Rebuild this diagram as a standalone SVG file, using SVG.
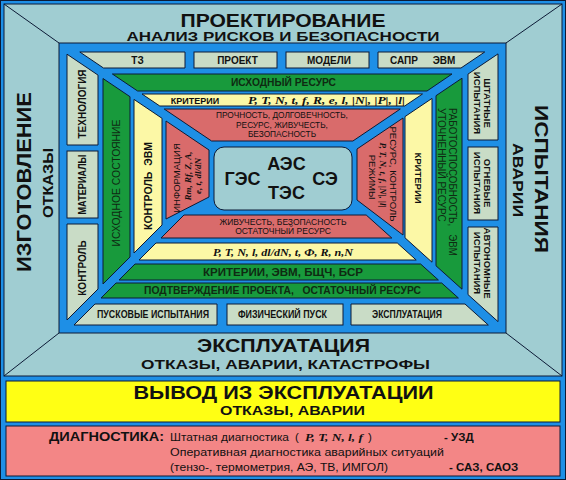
<svg xmlns="http://www.w3.org/2000/svg" width="566" height="480" viewBox="0 0 566 480">
<style>
.s{stroke:#0c1a36;stroke-width:1}
.bl{fill:#1e8fe6}
.pn{fill:#a0cdd2}
.bx{fill:#c9dcc6}
.gr{fill:#189a3c}
.yl{fill:#fcf8a6}
.rd{fill:#d96b6b}
.ln{stroke:#0c1a36;stroke-width:1;fill:none}
text{font-family:"Liberation Sans",Arial,sans-serif;fill:#111}
.b{font-weight:bold}
.m{text-anchor:middle}
.f{font-family:"Liberation Serif","Times New Roman",serif;font-style:italic;font-weight:bold}
.dg{fill:#0f2a12}
</style>
<rect x="0" y="0" width="566" height="480" class="bl"/>
<rect x="0.5" y="0.5" width="565" height="479" class="ln"/>

<g id="outer-frame">
<rect x="4" y="4" width="558" height="372" class="pn s"/>
<line x1="4" y1="4" x2="59" y2="43" class="ln"/>
<line x1="562" y1="4" x2="506" y2="43" class="ln"/>
<line x1="4" y1="376" x2="59" y2="333" class="ln"/>
<line x1="562" y1="376" x2="506" y2="333" class="ln"/>
</g>

<g id="proektirovanie">
<text x="283" y="27" class="b m" font-size="18" textLength="205" lengthAdjust="spacingAndGlyphs">ПРОЕКТИРОВАНИЕ</text>
<text x="283" y="40.5" class="b m" font-size="12.5" textLength="313" lengthAdjust="spacingAndGlyphs">АНАЛИЗ РИСКОВ И БЕЗОПАСНОСТИ</text>
</g>
<g id="izgotovlenie">
<text transform="translate(30.5,182) rotate(-90)" class="b m" font-size="21" textLength="180" lengthAdjust="spacingAndGlyphs">ИЗГОТОВЛЕНИЕ</text>
<text transform="translate(52.5,183) rotate(-90)" class="b m" font-size="15" textLength="70" lengthAdjust="spacingAndGlyphs">ОТКАЗЫ</text>
</g>
<g id="ispytaniya">
<text transform="translate(534.7,179) rotate(90)" class="b m" font-size="19" textLength="148" lengthAdjust="spacingAndGlyphs">ИСПЫТАНИЯ</text>
<text transform="translate(513,180) rotate(90)" class="b m" font-size="14" textLength="74" lengthAdjust="spacingAndGlyphs">АВАРИИ</text>
</g>
<g id="ekspluataciya">
<text x="283.5" y="352" class="b m" font-size="17.5" textLength="173" lengthAdjust="spacingAndGlyphs">ЭКСПЛУАТАЦИЯ</text>
<text x="285.5" y="369" class="b m" font-size="12.5" textLength="289" lengthAdjust="spacingAndGlyphs">ОТКАЗЫ, АВАРИИ, КАТАСТРОФЫ</text>
</g>

<rect id="inner-frame" x="59" y="43" width="447" height="290" class="bl s"/>

<g id="box-tz"><polygon points="79.8,52 185,52 185,68 103.5,68" class="bx s"/><text x="137.5" y="64" class="b m" font-size="10">ТЗ</text></g>
<g id="box-proekt"><rect x="194" y="52" width="83" height="16" class="bx s"/><text x="237.5" y="64" class="b m" font-size="10">ПРОЕКТ</text></g>
<g id="box-modeli"><rect x="286" y="52" width="83" height="16" class="bx s"/><text x="329" y="64" class="b m" font-size="10">МОДЕЛИ</text></g>
<g id="box-sapr"><polygon points="378,52 484.7,52 461,68 378,68" class="bx s"/><text x="404" y="64" class="b m" font-size="10">САПР</text><text x="444" y="64" class="b m" font-size="10">ЭВМ</text></g>

<g id="box-tehnologiya"><polygon points="67,54.2 98,75.1 98,145 67,145" class="bx s"/><text transform="translate(86.1,104) rotate(-90)" class="b m" font-size="10">ТЕХНОЛОГИЯ</text></g>
<g id="box-materialy"><rect x="67" y="151" width="31" height="67" class="bx s"/><text transform="translate(86.1,184.5) rotate(-90)" class="b m" font-size="10" textLength="60" lengthAdjust="spacingAndGlyphs">МАТЕРИАЛЫ</text></g>
<g id="box-kontrol"><polygon points="67,224 98,224 98,289 67,320" class="bx s"/><text transform="translate(86.1,268) rotate(-90)" class="b m" font-size="10">КОНТРОЛЬ</text></g>

<g id="box-shtatnye"><polygon points="468,74.1 498,53.9 498,140 468,140" class="bx s"/><text transform="translate(483.6,103) rotate(90)" class="b m" font-size="9.5">ШТАТНЫЕ</text><text transform="translate(473.6,103) rotate(90)" class="b m" font-size="9.5">ИСПЫТАНИЯ</text></g>
<g id="box-ognevye"><rect x="468" y="147" width="30" height="73" class="bx s"/><text transform="translate(483.6,183) rotate(90)" class="b m" font-size="9.5">ОГНЕВЫЕ</text><text transform="translate(473.6,183) rotate(90)" class="b m" font-size="9.5">ИСПЫТАНИЯ</text></g>
<g id="box-avtonomnye"><polygon points="468,227 498,227 498,321.6 468,294.6" class="bx s"/><text transform="translate(483.6,263) rotate(90)" class="b m" font-size="9.5">АВТОНОМНЫЕ</text><text transform="translate(473.6,263) rotate(90)" class="b m" font-size="9.5">ИСПЫТАНИЯ</text></g>

<g id="box-puskovye"><polygon points="95,304 217,304 217,325 74,325" class="bx s"/><text x="153" y="318" class="b m" font-size="10" textLength="112" lengthAdjust="spacingAndGlyphs">ПУСКОВЫЕ ИСПЫТАНИЯ</text></g>
<g id="box-fizpusk"><rect x="227" y="304" width="116" height="21" class="bx s"/><text x="282.5" y="318" class="b m" font-size="10" textLength="89" lengthAdjust="spacingAndGlyphs">ФИЗИЧЕСКИЙ ПУСК</text></g>
<g id="box-ekspl"><polygon points="351,304 465,304 488.3,325 351,325" class="bx s"/><text x="407" y="318" class="b m" font-size="10" textLength="70" lengthAdjust="spacingAndGlyphs">ЭКСПЛУАТАЦИЯ</text></g>

<g id="green-top"><polygon points="112.4,74 452,74 427,91 137.6,91" class="gr s"/><text x="283.5" y="86" class="b m dg" font-size="10" textLength="105" lengthAdjust="spacingAndGlyphs">ИСХОДНЫЙ РЕСУРС</text></g>
<g id="green-left"><polygon points="103,78.5 130,96.7 130,257 103,284" class="gr s"/><text transform="translate(120.3,183) rotate(-90)" class="m dg" font-size="10.5" textLength="127" lengthAdjust="spacingAndGlyphs">ИСХОДНОЕ СОСТОЯНИЕ</text></g>
<g id="green-right"><polygon points="436,95.7 462,78.2 462,289.2 436,265.8" class="gr s"/><text transform="translate(449.4,108) rotate(90)" class="dg" font-size="10" textLength="148" lengthAdjust="spacingAndGlyphs">РАБОТОСПОСОБНОСТЬ,&#160;&#160;&#160;ЭВМ</text><text transform="translate(438.4,108) rotate(90)" class="dg" font-size="10">УТОЧНЕННЫЙ РЕСУРС</text></g>
<g id="green-kriterii"><polygon points="135,264 420.6,264 438.4,280 119,280" class="gr s"/><text x="283" y="275.5" class="b m dg" font-size="10" textLength="160" lengthAdjust="spacingAndGlyphs">КРИТЕРИИ, ЭВМ, БЩЧ, БСР</text></g>
<g id="green-podtv"><polygon points="116,283 441.7,283 458.4,298 101,298" class="gr s"/><text x="282.5" y="294" class="b m dg" font-size="10" textLength="277" lengthAdjust="spacingAndGlyphs">ПОДТВЕРЖДЕНИЕ ПРОЕКТА,&#160;&#160;&#160;ОСТАТОЧНЫЙ РЕСУРС</text></g>

<g id="yellow-top"><polygon points="142,94 422.5,94 404.7,106 159.8,106" class="yl s"/><text x="195" y="103.5" class="b m" font-size="9">КРИТЕРИИ</text><text x="248" y="104" class="f" font-size="10" textLength="157" lengthAdjust="spacingAndGlyphs">P, T, N, t, f, R, e, l, |N|, |P|, |l|</text></g>
<g id="yellow-left"><polygon points="134,99.4 162,118.3 162,225 134,253" class="yl s"/><text transform="translate(151.6,186) rotate(-90)" class="b m" font-size="10" textLength="88" lengthAdjust="spacingAndGlyphs">КОНТРОЛЬ&#160;&#160;ЭВМ</text></g>
<g id="yellow-right"><polygon points="405,116.6 432,98.4 432,262.2 405,237.8" class="yl s"/><text transform="translate(414.6,178) rotate(90)" class="b m" font-size="9.5">КРИТЕРИИ</text></g>
<g id="yellow-bottom"><polygon points="156,243 397.3,243 416.2,260 139,260" class="yl s"/><text x="283" y="255.5" class="f m" font-size="10" textLength="140" lengthAdjust="spacingAndGlyphs">P, T, N, l, dl/dN, t, Ф, R, n,N</text></g>

<g id="red-top"><polygon points="164.2,109 400.3,109 352.9,141 211.6,141" class="rd s"/>
<text x="282" y="118.3" class="m" font-size="8.3">ПРОЧНОСТЬ, ДОЛГОВЕЧНОСТЬ,</text>
<text x="282" y="127.8" class="m" font-size="8.3">РЕСУРС, ЖИВУЧЕСТЬ,</text>
<text x="282" y="137.3" class="m" font-size="8.3">БЕЗОПАСНОСТЬ</text></g>
<g id="red-left"><polygon points="166,121 209,150 209,197 166,219" class="rd s"/>
<text transform="translate(180.4,178) rotate(-90)" class="m" font-size="9.5">ИНФОРМАЦИЯ</text>
<text transform="translate(190.5,176) rotate(-90)" class="f m" font-size="9">Rm, Rf, Z, A,</text>
<text transform="translate(200.5,176) rotate(-90)" class="f m" font-size="9">e, t, dl/dN</text></g>
<g id="red-right"><polygon points="357,149 403,118 403,235 357,200" class="rd s"/>
<text transform="translate(389.6,174) rotate(90)" class="m" font-size="9.5">РЕСУРС, КОНТРОЛЬ</text>
<text transform="translate(380,175) rotate(90)" class="f m" font-size="9">P, T, N, t, f, |N|, |l|</text>
<text transform="translate(368.6,177) rotate(90)" class="m" font-size="9.5">РЕЖИМЫ</text></g>
<g id="red-bottom"><polygon points="184,215 366.2,215 391.8,238 161,238" class="rd s"/>
<text x="283" y="224.5" class="m" font-size="8.5">ЖИВУЧЕСТЬ, БЕЗОПАСНОСТЬ</text>
<text x="283" y="234" class="m" font-size="8.5">ОСТАТОЧНЫЙ РЕСУРС</text></g>

<g id="center">
<rect x="214" y="147" width="138" height="63" rx="10" class="pn s"/>
<text x="286.5" y="170" class="b m" font-size="18">АЭС</text>
<text x="242.5" y="185" class="b m" font-size="18">ГЭС</text>
<text x="325" y="185" class="b m" font-size="18">СЭ</text>
<text x="286.5" y="199" class="b m" font-size="18">ТЭС</text>
</g>

<g id="vyvod">
<rect x="6" y="381" width="554" height="41" fill="#ffff14" class="s"/>
<text x="283.5" y="399" class="b m" font-size="19" textLength="300" lengthAdjust="spacingAndGlyphs">ВЫВОД ИЗ ЭКСПЛУАТАЦИИ</text>
<text x="292.5" y="415" class="b m" font-size="12.5" textLength="145" lengthAdjust="spacingAndGlyphs">ОТКАЗЫ, АВАРИИ</text>
</g>

<g id="diagnostika">
<rect x="6" y="426" width="554" height="50" fill="#f38686" class="s"/>
<text x="49" y="441" class="b" font-size="13.5" textLength="115" lengthAdjust="spacingAndGlyphs">ДИАГНОСТИКА:</text>
<text x="170" y="441" font-size="11.5" textLength="119" lengthAdjust="spacingAndGlyphs">Штатная диагностика</text>
<text x="295" y="441" font-size="11.5">(</text>
<text x="305" y="441" class="f" font-size="11" font-weight="normal" textLength="58" lengthAdjust="spacingAndGlyphs">P, T, N, l, f</text>
<text x="368" y="441" font-size="11.5">)</text>
<text x="444" y="441" class="b" font-size="11.5">- УЗД</text>
<text x="170" y="456" font-size="11.5" textLength="274" lengthAdjust="spacingAndGlyphs">Оперативная диагностика аварийных ситуаций</text>
<text x="170" y="471" font-size="11.5" textLength="218" lengthAdjust="spacingAndGlyphs">(тензо-, термометрия, АЭ, ТВ, ИМГОЛ)</text>
<text x="449" y="471" class="b" font-size="11.5">- САЗ, САОЗ</text>
</g>
</svg>
